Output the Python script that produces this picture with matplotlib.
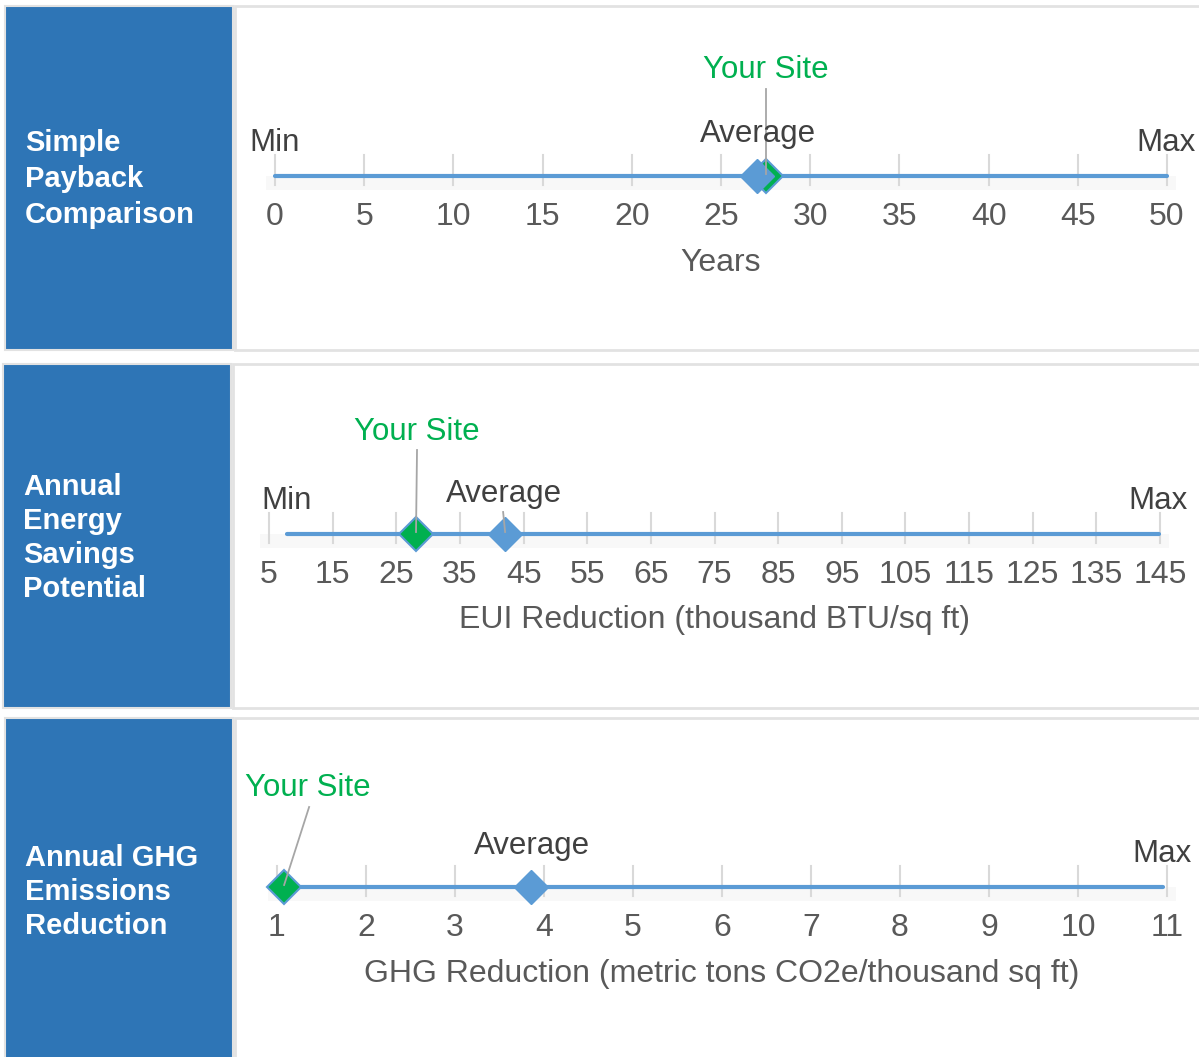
import matplotlib
matplotlib.use("Agg")
import matplotlib.pyplot as plt
from matplotlib.patches import Rectangle

plt.rcParams['font.family'] = ['Liberation Sans', 'DejaVu Sans']

W, H = 1199, 1057

# ---------------- data ----------------
titles = ["Simple\nPayback\nComparison",
          "Annual\nEnergy\nSavings\nPotential",
          "Annual GHG\nEmissions\nReduction"]
axis_titles = ["Years",
               "EUI Reduction (thousand BTU/sq ft)",
               "GHG Reduction (metric tons CO2e/thousand sq ft)"]
ticks_payback = [0, 5, 10, 15, 20, 25, 30, 35, 40, 45, 50]
ticks_eui = [5, 15, 25, 35, 45, 55, 65, 75, 85, 95, 105, 115, 125, 135, 145]
ticks_ghg = [1, 2, 3, 4, 5, 6, 7, 8, 9, 10, 11]
range_min = [0, 7.8, 1.07]
range_max = [50, 144.8, 10.95]
average_vals = [27.0, 42.1, 3.85]
site_vals = [27.5, 28.1, 1.08]
show_min_label = [True, True, False]

# ---------------- layout (pixels) ----------------
panels = [
    dict(bx0=5, bx1=233, y0=6, y1=350, ax0=275, ax1=1167, ly=176, tx=25, tdy=36),
    dict(bx0=3, bx1=231, y0=364, y1=708, ax0=269, ax1=1160, ly=534, tx=23, tdy=34),
    dict(bx0=5, bx1=233, y0=718, y1=1070, ax0=277, ax1=1167, ly=887, tx=25, tdy=34.5),
]
tick_sets = [ticks_payback, ticks_eui, ticks_ghg]
title_cy = [179, 538, 892]
TDY = 3  # text baseline correction
site_label_dy = [-109, -105, -102]
site_label_dx = [0, 1, 24]
leader_top = [-87, -84, -80]
leader_top_dx = [0, 1, 25]
avg_label_dy = [-45, -43, -44]
avg_label_dx = [1, -1, 1]
tick_label_dy = 38
axis_title_dy = [84, 83, 84]

BLUE_BOX = "#2E75B6"
LINE = "#5B9BD5"
GREEN = "#00B050"
TEXT = "#404040"
TICKTXT = "#595959"
GRID = "#D9D9D9"
BORDER = "#E2E2E2"

fig = plt.figure(figsize=(W / 100, H / 100), dpi=100)
bg = fig.add_axes([0, 0, 1, 1])
bg.set_xlim(0, W)
bg.set_ylim(H, 0)
bg.axis("off")

for i, p in enumerate(panels):
    bg.add_patch(Rectangle((p["bx0"], p["y0"]), p["bx1"] - p["bx0"], p["y1"] - p["y0"],
                           facecolor=BLUE_BOX, edgecolor=BORDER, lw=1.5, zorder=2))
    bg.add_patch(Rectangle((p["bx1"] + 2, p["y0"]), W + 10, p["y1"] - p["y0"],
                           facecolor="white", edgecolor=BORDER, lw=2, zorder=1))
    lines = titles[i].split("\n")
    n = len(lines)
    for k, t in enumerate(lines):
        bg.text(p["tx"], title_cy[i] + (k - (n - 1) / 2) * p["tdy"], t, color="white",
                fontsize=21, fontweight="bold", ha="left", va="center", zorder=3)

for i, p in enumerate(panels):
    ticks = tick_sets[i]
    ax = fig.add_axes([p["ax0"] / W, 1 - p["y1"] / H, (p["ax1"] - p["ax0"]) / W,
                       (p["y1"] - p["y0"]) / H])
    ax.set_xlim(ticks[0], ticks[-1])
    ax.set_ylim(p["y1"], p["y0"])
    ax.axis("off")
    ax.patch.set_alpha(0)
    ly = p["ly"]
    span = ticks[-1] - ticks[0]
    ax.add_patch(Rectangle((ticks[0] - 0.01 * span, ly), span * 1.02, 14,
                           facecolor="#F8F8F8", edgecolor="none", zorder=0, clip_on=False))
    for t in ticks:
        ax.plot([t, t], [ly - 21, ly + 9], color=GRID, lw=1.5, zorder=1, clip_on=False)
        ax.text(t, ly + tick_label_dy + TDY, str(t), ha="center", va="center",
                fontsize=23, color=TICKTXT, clip_on=False)
    ax.plot([range_min[i], range_max[i]], [ly, ly], color=LINE, lw=3,
            solid_capstyle="round", zorder=2, clip_on=False)
    ax.plot([site_vals[i]], [ly], marker="D", ms=17.5, color=GREEN, mec=LINE, mew=1.5,
            zorder=3, clip_on=False)
    ax.plot([average_vals[i]], [ly], marker="D", ms=17.5, color=LINE, mec=LINE, mew=1,
            zorder=4, clip_on=False)
    xpx = (p["ax1"] - p["ax0"]) / span
    top_x = site_vals[i] + leader_top_dx[i] / xpx
    ax.plot([top_x, site_vals[i]], [ly + leader_top[i], ly - 2], color="#A6A6A6",
            lw=1.3, zorder=5, clip_on=False)
    if i == 1:
        ax.plot([average_vals[i] - 2 / xpx, average_vals[i]], [ly - 22, ly - 2],
                color="#A6A6A6", lw=1.3, zorder=5, clip_on=False)
    ax.text(site_vals[i] + site_label_dx[i] / xpx, ly + site_label_dy[i] + TDY, "Your Site",
            ha="center", va="center", fontsize=22.5, color=GREEN, clip_on=False, zorder=6)
    ax.text(average_vals[i] + avg_label_dx[i] / xpx, ly + avg_label_dy[i] + TDY, "Average",
            ha="center", va="center", fontsize=22.5, color=TEXT, clip_on=False, zorder=6)
    if show_min_label[i]:
        ax.text(range_min[i], ly - 36 + TDY, "Min", ha="center", va="center", fontsize=22.5,
                color=TEXT, clip_on=False)
    ax.text(range_max[i] - 1 / xpx, ly - 36 + TDY, "Max", ha="center", va="center",
            fontsize=22.5, color=TEXT, clip_on=False)
    ax.text((ticks[0] + ticks[-1]) / 2, ly + axis_title_dy[i] + TDY, axis_titles[i],
            ha="center", va="center", fontsize=23, color=TICKTXT, clip_on=False)

fig.savefig("out.png", dpi=100)
